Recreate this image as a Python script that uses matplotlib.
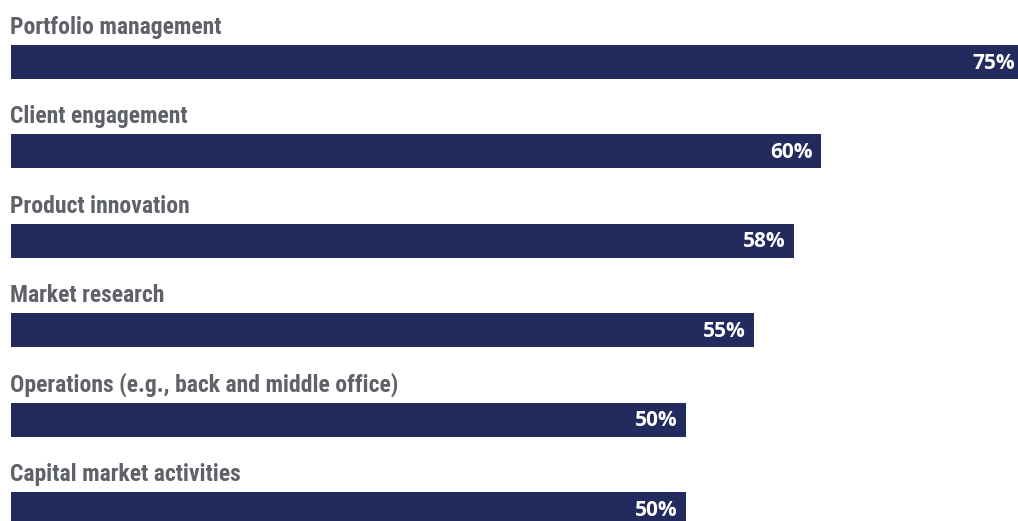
import matplotlib
matplotlib.use('Agg')
import matplotlib.pyplot as plt

# survey categories, top to bottom
categories = [
    'Portfolio management',
    'Client engagement',
    'Product innovation',
    'Market research',
    'Operations (e.g., back and middle office)',
    'Capital market activities',
]
values = [75, 60, 58, 55, 50, 50]
valueLabels = ['75%', '60%', '58%', '55%', '50%', '50%']

barColor = '#222a5e'
labelColor = '#5f6268'

W, H = 1018, 521
fig = plt.figure(figsize=(W / 100, H / 100), dpi=100)
ax = fig.add_axes([0, 0, 1, 1])

# pixel layout -> data limits
rowStep = 89.4
firstCenter = 62
x0px = 11
pxPerUnit = 13.5

positions = list(range(len(categories)))
ax.barh(positions, values, height=34 / rowStep, color=barColor, left=0)

ax.set_xlim(-x0px / pxPerUnit, (W - x0px) / pxPerUnit)
ax.set_ylim((H - firstCenter) / rowStep, -firstCenter / rowStep)
ax.axis('off')

for i, (cat, v, lab) in enumerate(zip(categories, values, valueLabels)):
    ax.text(10 / W, i - 0.19 - 11 / rowStep, cat,
            transform=ax.get_yaxis_transform(),
            ha='left', va='baseline', fontsize=17, fontweight='bold',
            fontstretch='condensed',
            family=['Roboto Condensed', 'DejaVu Sans'], color=labelColor)
    # value label sits inside the bar end; 75% bar runs past the edge
    ax.annotate(lab, xy=(v, i), xytext=(-8, -1), textcoords='offset pixels',
                ha='right', va='center', fontsize=15, fontweight='bold',
                family='Open Sans', color='white', annotation_clip=False)

fig.savefig('out.png', dpi=100)
